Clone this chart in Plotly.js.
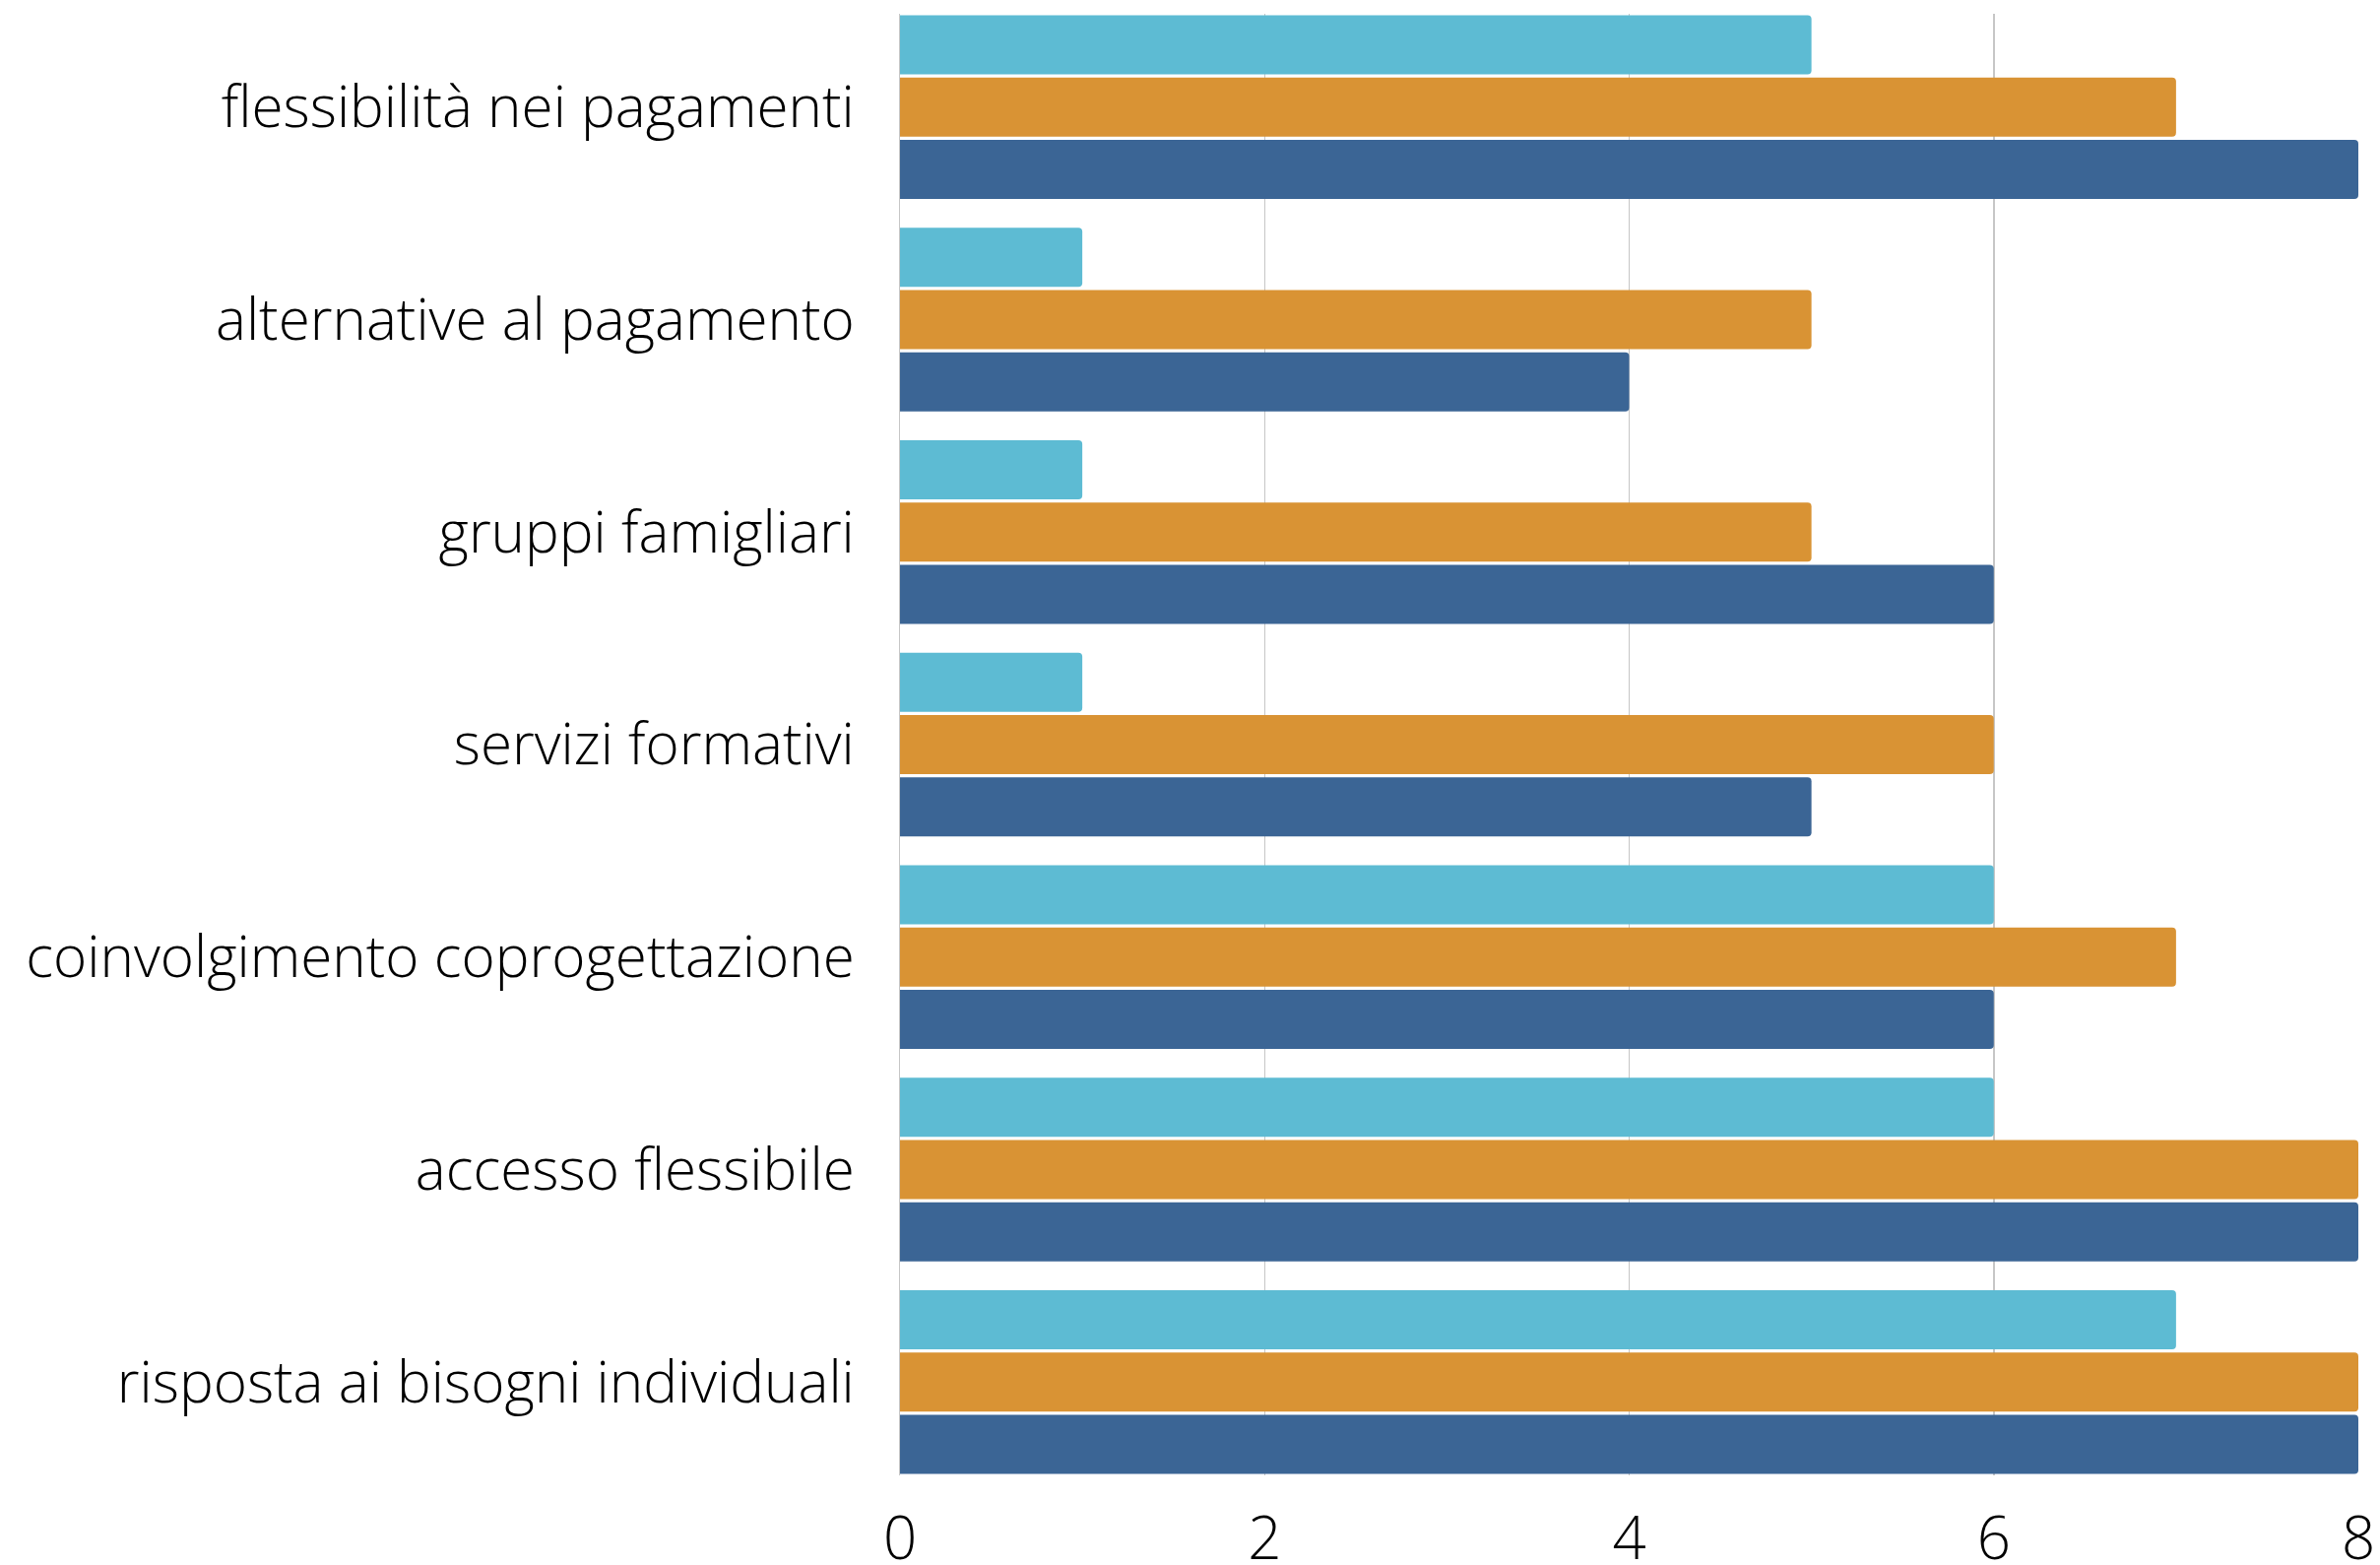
<!DOCTYPE html>
<html>
<head>
<meta charset="utf-8">
<script src="https://cdn.plot.ly/plotly-3.0.1.min.js"></script>
<style>html,body{margin:0;padding:0;background:#fff;}#chart{width:2417px;height:1589px;}</style>
</head>
<body>
<div id="chart"></div>
<script>
const categories = [
  "flessibilità nei pagamenti",
  "alternative al pagamento",
  "gruppi famigliari",
  "servizi formativi",
  "coinvolgimento coprogettazione",
  "accesso flessibile",
  "risposta ai bisogni individuali"
];
const seriesNames = ["Serie 1", "Serie 2", "Serie 3"];
const serie1 = [5, 1, 1, 1, 6, 6, 7];
const serie2 = [7, 5, 5, 6, 7, 8, 8];
const serie3 = [8, 4, 6, 5, 6, 8, 8];
const xTicks = [0, 2, 4, 6, 8];
const colors = ["#5DBBD3", "#D99334", "#3B6595"];

const allSeries = [serie1, serie2, serie3];
const traces = allSeries.map((vals, i) => ({
  type: "bar",
  orientation: "h",
  name: seriesNames[i],
  y: categories,
  x: vals,
  marker: { color: colors[i], line: { width: 0 }, cornerradius: 4 },
  hoverinfo: "x+y"
}));

const labelFont = { family: "Open Sans, sans-serif", size: 58.4, color: "#000", weight: 300 };
const tickFont = { family: "Open Sans, sans-serif", size: 60, color: "#000", weight: 300 };

const layout = {
  width: 2417,
  height: 1589,
  margin: { l: 914, r: 22, t: 14, b: 91 },
  paper_bgcolor: "#fff",
  plot_bgcolor: "#fff",
  showlegend: false,
  barmode: "group",
  bargap: 0.121,
  bargroupgap: 0.05,
  font: labelFont,
  xaxis: {
    range: [0, 8],
    tickvals: xTicks,
    ticktext: xTicks.map(String),
    showgrid: true,
    gridcolor: "#c6c6c6",
    gridwidth: 1.5,
    zeroline: false,
    showline: false,
    ticks: "",
    tickfont: tickFont,
    ticklabelstandoff: 24,
    fixedrange: true
  },
  yaxis: {
    type: "category",
    categoryorder: "array",
    categoryarray: categories,
    range: [6.439, -0.439],
    showgrid: false,
    zeroline: false,
    showline: true,
    linecolor: "#c6c6c6",
    linewidth: 1.5,
    ticks: "",
    tickfont: labelFont,
    ticklabelstandoff: 33,
    fixedrange: true
  }
};

Plotly.newPlot("chart", traces, layout, { displayModeBar: false, staticPlot: true });
</script>
</body>
</html>
